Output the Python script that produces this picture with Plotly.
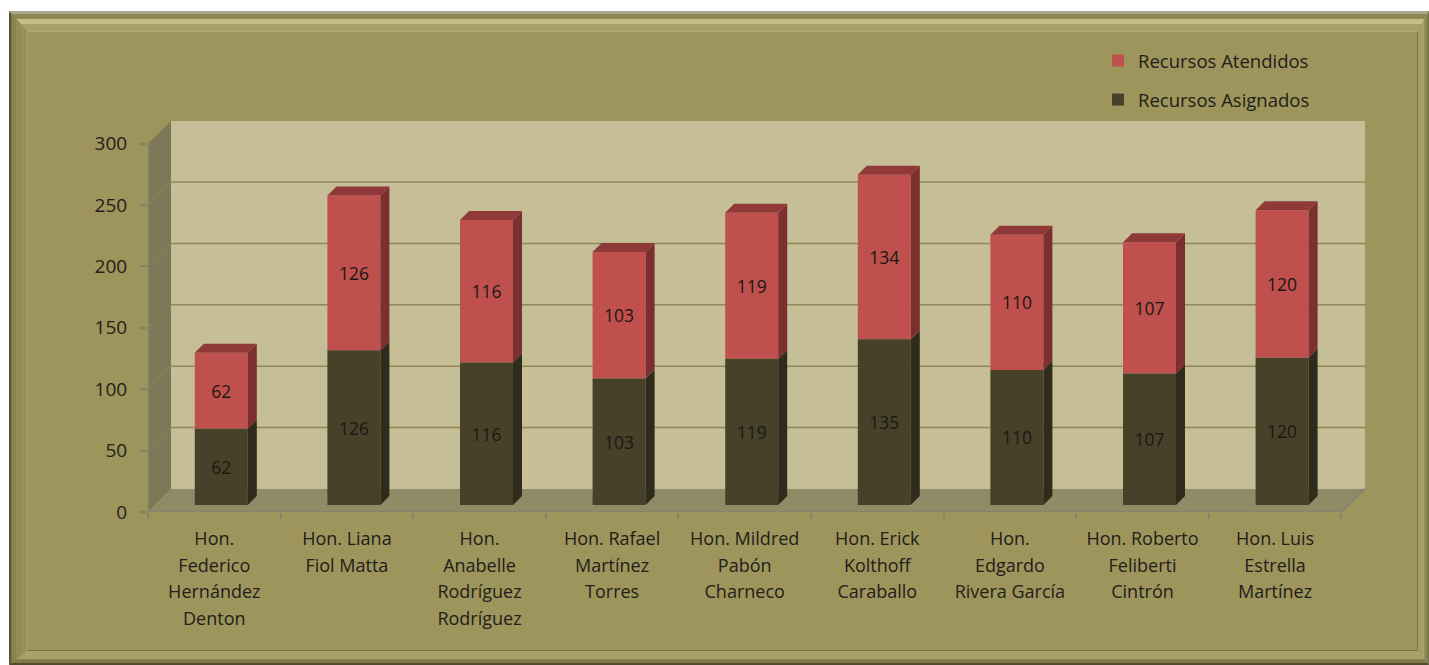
import plotly.graph_objects as go

categories = [
    ["Hon.", "Federico", "Hernández", "Denton"],
    ["Hon. Liana", "Fiol Matta"],
    ["Hon.", "Anabelle", "Rodríguez", "Rodríguez"],
    ["Hon. Rafael", "Martínez", "Torres"],
    ["Hon. Mildred", "Pabón", "Charneco"],
    ["Hon. Erick", "Kolthoff", "Caraballo"],
    ["Hon.", "Edgardo", "Rivera García"],
    ["Hon. Roberto", "Feliberti", "Cintrón"],
    ["Hon. Luis", "Estrella", "Martínez"],
]
asignados = [62, 126, 116, 103, 119, 135, 110, 107, 120]
atendidos = [62, 126, 116, 103, 119, 134, 110, 107, 120]
y_ticks = [0, 50, 100, 150, 200, 250, 300]

W, H = 1429, 665
PL, PR, PT, PB = 148, 1365, 121, 512   # plot box in pixels
PX_X = 132.6     # pixels per category
PX_Y = 1.228     # pixels per value unit
n = len(categories)
xmax = (PR - PL) / PX_X
ymax = (PB - PT) / PX_Y
wall_dx = 23 / PX_X
wall_dy = 23 / PX_Y
bar_w = 53 / PX_X
bar_shift = 7 / PX_X
bar_lift = 7 / PX_Y
side_dx = 9 / PX_X
side_dy = 9 / PX_Y

TXT = "#22201a"
FONT = "Open Sans"
BG = "#9e955c"
WALL = "#c5be96"
SIDE = "#7c7858"
FLOOR = "#908a67"
GRID = "#8f8856"
AXIS = "#85836f"
RED, RED_TOP, RED_SIDE = "#c0504d", "#8f3a38", "#7b2f2e"
DK, DK_SIDE = "#47412a", "#2f2c1b"

xs = [i + 0.5 + bar_shift for i in range(n)]
base_dk = [bar_lift] * n
base_red = [bar_lift + v for v in asignados]


def side_poly(bases, vals):
    px, py = [], []
    for x, b, v in zip(xs, bases, vals):
        r = x + bar_w / 2
        px += [r, r + side_dx, r + side_dx, r, r, None]
        py += [b, b + side_dy, b + v + side_dy, b + v, b, None]
    return px, py


def top_poly(bases, vals):
    px, py = [], []
    for x, b, v in zip(xs, bases, vals):
        l, r = x - bar_w / 2, x + bar_w / 2
        t = b + v
        px += [l, r, r + side_dx, l + side_dx, l, None]
        py += [t, t, t + side_dy, t + side_dy, t, None]
    return px, py


fig = go.Figure()
common = dict(x=xs, width=[bar_w] * n, textposition="inside", insidetextanchor="middle",
              textangle=0, constraintext="none", cliponaxis=False,
              textfont=dict(family=FONT, size=17.5, color="#1a1812"),
              marker_line_width=0, hoverinfo="name+y")
fig.add_bar(y=atendidos, base=base_red, text=atendidos, name="Recursos Atendidos",
            marker_color=RED, legendgroup="a", **common)
fig.add_bar(y=asignados, base=base_dk, text=asignados, name="Recursos Asignados",
            marker_color=DK, legendgroup="b", **common)

for (px, py), c in [
    (side_poly(base_dk, asignados), DK_SIDE),
    (side_poly(base_red, atendidos), RED_SIDE),
    (top_poly(base_red, atendidos), RED_TOP),
]:
    fig.add_scatter(x=px, y=py, mode="lines", fill="toself", fillcolor=c,
                    line=dict(width=0, color=c), showlegend=False, hoverinfo="skip")

# front edges of the axes
fig.add_scatter(x=[0, n, n + wall_dx], y=[0, 0, wall_dy], mode="lines",
                line=dict(color=AXIS, width=2), showlegend=False, hoverinfo="skip")
fig.add_scatter(x=[0, 0], y=[0, y_ticks[-1]], mode="lines",
                line=dict(color=AXIS, width=1.5), showlegend=False, hoverinfo="skip")

shapes = []


def px_poly(points, color):
    d = "M" + " L".join(f"{x / W:.5f},{1 - y / H:.5f}" for x, y in points) + " Z"
    shapes.append(dict(type="path", xref="paper", yref="paper", path=d, fillcolor=color,
                       line_width=0, layer="below"))


OL, OT, OR, OB = 9, 11, 1429, 665
IL, IT, IR, IB = 28, 32, 1417, 650
# frame base
px_poly([(OL, OT), (OR, OT), (OR, OB), (OL, OB)], BG)
# (start, end, top colour, right, bottom, left) as fractions of the bevel
rings = [
    (0.00, 0.14, "#a9a78f", "#77724a", "#4f4b2e", "#5c5733"),
    (0.14, 0.38, "#8f8853", "#8c8552", "#7d774a", "#8a8350"),
    (0.38, 0.62, "#c8bf85", "#aaa26b", "#a89f66", "#948c55"),
    (0.62, 0.94, "#a9a068", "#a69d64", "#aaa26a", "#9a9158"),
    (0.94, 1.00, "#b0a86f", "#716b45", "#77714a", "#aaa26b"),
]
for a, b, ct, cr, cb, cl in rings:
    def pt(f):
        return (OL + (IL - OL) * f, OT + (IT - OT) * f, OR + (IR - OR) * f, OB + (IB - OB) * f)
    l0, t0, r0, b0 = pt(a)
    l1, t1, r1, b1 = pt(b)
    px_poly([(l0, t0), (r0, t0), (r1, t1), (l1, t1)], ct)
    px_poly([(r0, t0), (r0, b0), (r1, b1), (r1, t1)], cr)
    px_poly([(l0, b0), (r0, b0), (r1, b1), (l1, b1)], cb)
    px_poly([(l0, t0), (l0, b0), (l1, b1), (l1, t1)], cl)


# walls and floor (data coordinates)
def data_path(points, color):
    d = "M" + " L".join(f"{x:.4f},{y:.3f}" for x, y in points) + " Z"
    shapes.append(dict(type="path", xref="x", yref="y", path=d, fillcolor=color,
                       line_width=0, layer="below"))


data_path([(wall_dx, wall_dy), (xmax, wall_dy), (xmax, ymax), (wall_dx, ymax)], WALL)
data_path([(0, 0), (wall_dx, wall_dy), (wall_dx, ymax), (0, y_ticks[-1])], SIDE)
data_path([(0, 0), (n, 0), (xmax, wall_dy), (wall_dx, wall_dy)], FLOOR)
for v in y_ticks[1:-1]:
    shapes.append(dict(type="line", xref="x", yref="y", x0=wall_dx, x1=xmax,
                       y0=v + wall_dy, y1=v + wall_dy, line=dict(color=GRID, width=1.5),
                       layer="below"))
    shapes.append(dict(type="line", xref="x", yref="y", x0=0, x1=wall_dx,
                       y0=v, y1=v + wall_dy, line=dict(color=GRID, width=1),
                       layer="below"))

span = "<span style='font-size:18px'>{}</span>"
ticktext = ["<br>".join(span.format(w) for w in c) for c in categories]

fig.update_layout(
    width=W, height=H, margin=dict(l=0, r=0, t=0, b=0),
    paper_bgcolor="white", plot_bgcolor="rgba(0,0,0,0)",
    barmode="overlay", shapes=shapes, font=dict(family=FONT, color=TXT),
    xaxis=dict(domain=[PL / W, PR / W], range=[0, xmax], showgrid=False, zeroline=False,
               tickmode="array", tickvals=[i + 0.5 for i in range(n)], ticktext=ticktext,
               ticks="", showline=False, tickfont=dict(family=FONT, size=20.4, color=TXT),
               tickangle=0, automargin=False, ticklabelstandoff=12,
               minor=dict(tickmode="array", tickvals=list(range(n + 1)), ticks="outside",
                          ticklen=6, tickcolor=AXIS, tickwidth=1.5, showgrid=False)),
    yaxis=dict(domain=[1 - PB / H, 1 - PT / H], range=[0, ymax], showgrid=False, zeroline=False,
               tickmode="array", tickvals=y_ticks, ticks="outside", ticklen=7, tickcolor=AXIS,
               tickwidth=1.5, showline=False, automargin=False, ticklabelstandoff=9,
               tickfont=dict(family=FONT, size=19, color=TXT)),
    legend=dict(x=1098 / W, y=1 - 42 / H, xanchor="left", yanchor="top",
                bgcolor="rgba(0,0,0,0)", font=dict(family=FONT, size=18.5, color=TXT),
                traceorder="grouped", tracegroupgap=12),
)

fig.write_html("out.html", config={"displayModeBar": False},
               post_script="document.body.style.margin='0';document.body.style.overflow='hidden';")
